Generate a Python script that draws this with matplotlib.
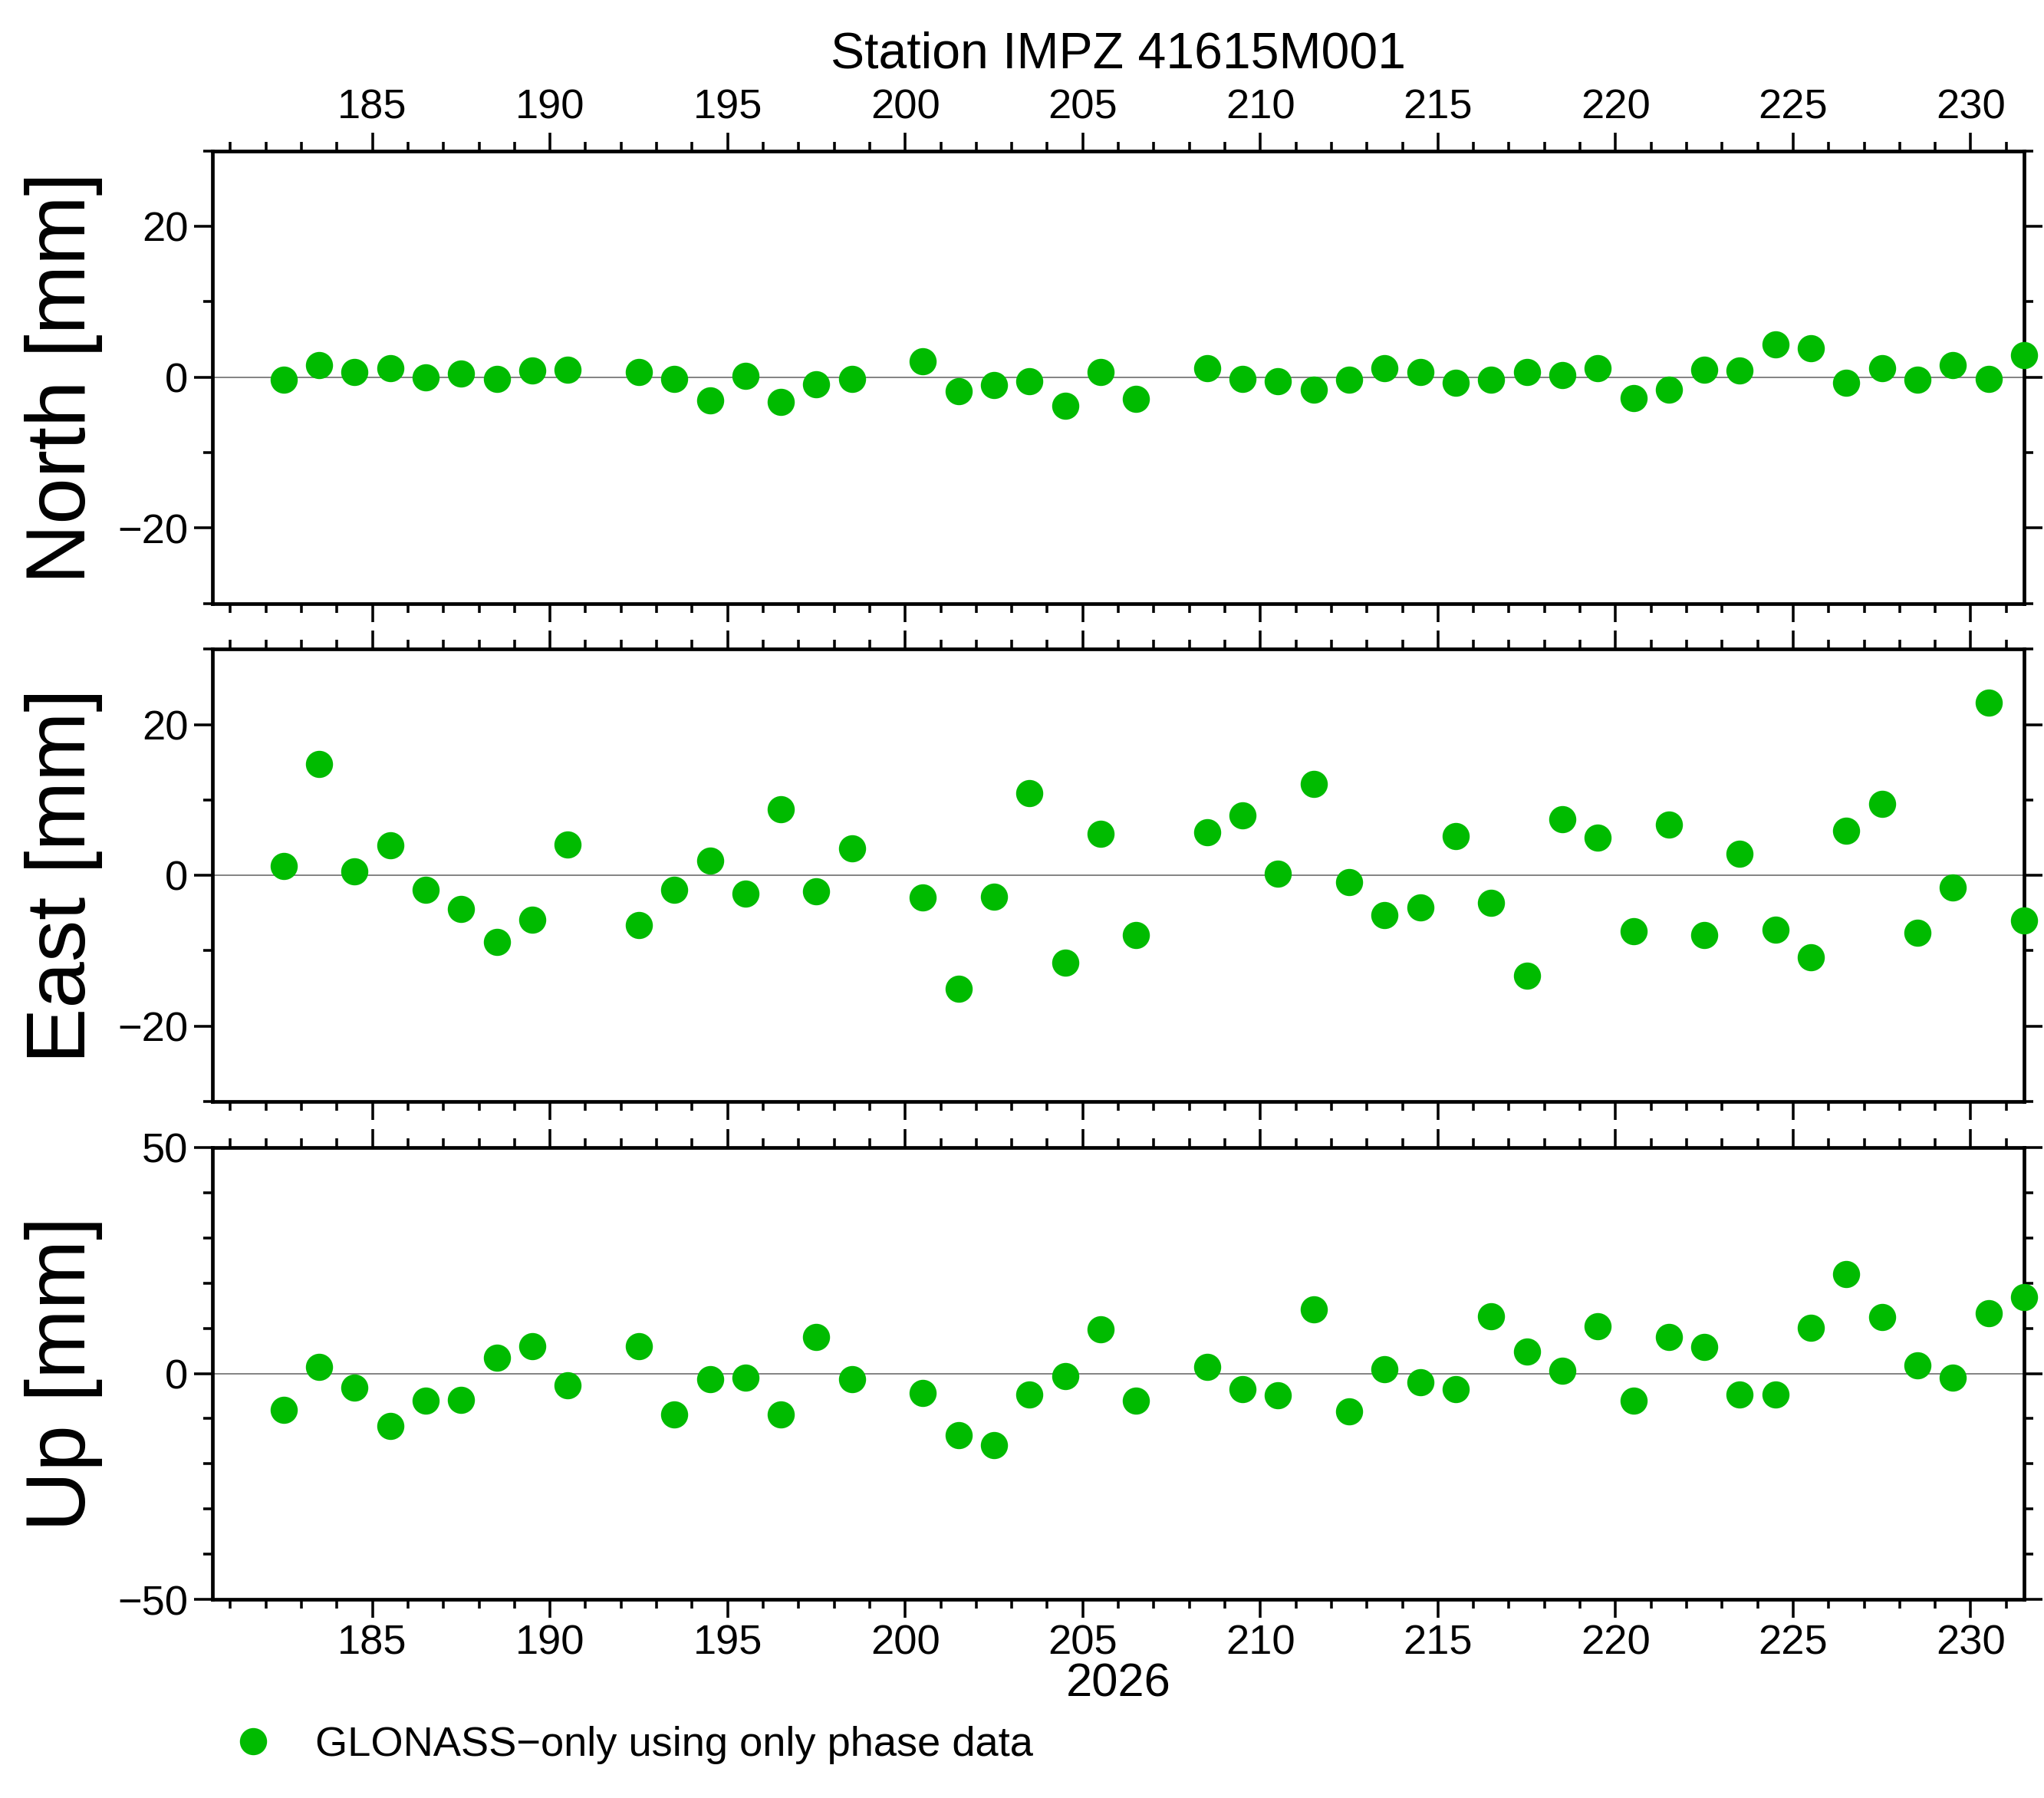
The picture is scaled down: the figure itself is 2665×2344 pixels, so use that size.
import matplotlib.pyplot as plt
from matplotlib.lines import Line2D
from matplotlib.ticker import MultipleLocator

plt.rcParams['font.family'] = ['Liberation Sans', 'DejaVu Sans']

days = [182.5, 183.5, 184.5, 185.5, 186.5, 187.5, 188.5, 189.5, 190.5,
        192.5, 193.5, 194.5, 195.5, 196.5, 197.5, 198.5,
        200.5, 201.5, 202.5, 203.5, 204.5, 205.5, 206.5,
        208.5, 209.5, 210.5, 211.5, 212.5, 213.5, 214.5, 215.5, 216.5, 217.5,
        218.5, 219.5, 220.5, 221.5, 222.5, 223.5, 224.5, 225.5, 226.5, 227.5,
        228.5, 229.5, 230.5, 231.5]

north = [-0.3, 1.6, 0.7, 1.2, 0.0, 0.5, -0.2, 0.9, 1.0,
         0.7, -0.2, -3.1, 0.2, -3.3, -0.9, -0.2,
         2.1, -1.9, -1.0, -0.5, -3.8, 0.7, -2.9,
         1.2, -0.2, -0.5, -1.7, -0.3, 1.2, 0.7, -0.7, -0.3, 0.7,
         0.3, 1.2, -2.8, -1.7, 1.0, 0.9, 4.3, 3.8, -0.7, 1.2,
         -0.3, 1.6, -0.2, 2.9]

east = [1.2, 14.8, 0.5, 4.0, -1.9, -4.5, -8.8, -5.9, 4.1,
        -6.6, -1.9, 1.9, -2.4, 8.8, -2.1, 3.6,
        -2.9, -15.0, -2.8, 10.9, -11.6, 5.5, -7.9,
        5.7, 7.9, 0.2, 12.1, -0.9, -5.3, -4.3, 5.2, -3.6, -13.3,
        7.4, 5.0, -7.4, 6.7, -7.9, 2.9, -7.2, -10.9, 5.9, 9.5,
        -7.6, -1.6, 22.9, -6.0]

up = [-8.1, 1.4, -3.2, -11.6, -6.1, -5.8, 3.5, 6.1, -2.6,
      6.1, -9.0, -1.2, -0.9, -9.0, 8.1, -1.2,
      -4.3, -13.6, -15.9, -4.6, -0.6, 9.8, -6.1,
      1.4, -3.5, -4.9, 14.2, -8.4, 0.9, -2.0, -3.5, 12.7, 4.9,
      0.6, 10.4, -6.1, 8.1, 5.8, -4.6, -4.6, 10.1, 22.0, 12.4,
      1.7, -0.9, 13.3, 16.8]

panels = [("North [mm]", north, 30, 20, 10),
          ("East [mm]", east, 30, 20, 10),
          ("Up [mm]", up, 50, 50, 10)]

green = '#00bb00'
fig = plt.figure(figsize=(15.68, 13.79), dpi=170)
tops = [0.9159, 0.6389, 0.3619]
h = 0.2516

for i, (label, vals, lim, major, minor) in enumerate(panels):
    ax = fig.add_axes([0.104, tops[i] - h, 0.886, h])
    ax.axhline(0, color='gray', lw=0.8, zorder=1)
    ax.plot(days, vals, 'o', color=green, ms=14, clip_on=False, zorder=3)
    ax.set_xlim(180.5, 231.5)
    ax.set_ylim(-lim, lim)
    ax.xaxis.set_major_locator(MultipleLocator(5))
    ax.xaxis.set_minor_locator(MultipleLocator(1))
    ax.yaxis.set_major_locator(MultipleLocator(major))
    ax.yaxis.set_minor_locator(MultipleLocator(minor))
    for s in ax.spines.values():
        s.set_linewidth(2)
    ax.tick_params(which='both', direction='out', top=True, right=True,
                   labelsize=23, width=1.5)
    ax.tick_params(which='major', length=10)
    ax.tick_params(which='minor', length=5)
    ax.tick_params(axis='x', labeltop=(i == 0), labelbottom=(i == 2))
    ax.set_ylabel(label, fontsize=46, labelpad=8)
    if i == 0:
        ax.set_title("Station IMPZ 41615M001", fontsize=28, pad=46)
    if i == 2:
        ax.set_xlabel("2026", fontsize=26, labelpad=0)

handle = Line2D([], [], marker='o', ls='', color=green, ms=14)
fig.legend([handle], ["GLONASS\u2212only using only phase data"], loc='lower left',
           bbox_to_anchor=(0.085, -0.002), frameon=False, fontsize=23,
           handletextpad=0.5)

fig.savefig("out.png")
